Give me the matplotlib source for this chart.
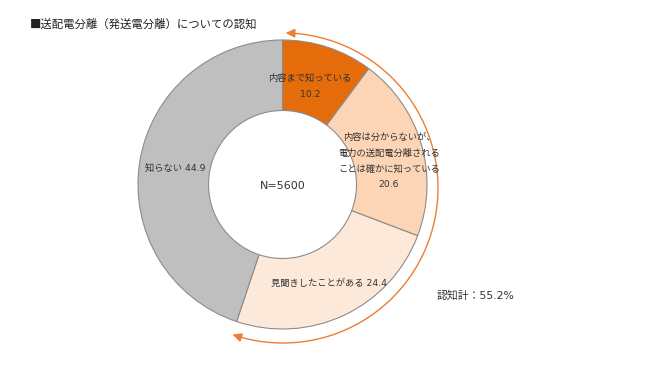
import matplotlib
matplotlib.use("Agg")
import matplotlib.pyplot as plt
from matplotlib.patches import FancyArrowPatch
from matplotlib.path import Path
from matplotlib.transforms import Affine2D

plt.rcParams['font.family'] = ['DejaVu Sans', 'Noto Sans CJK JP']

title = "■送配電分離（発送電分離）についての認知"
categories = ["内容まで知っている", "内容は分からないが、\n電力の送配電分離される\nことは確かに知っている",
              "見聞きしたことがある", "知らない"]
values = [10.2, 20.6, 24.4, 44.9]
colors = ["#E46C0A", "#FBD5B5", "#FDE9D9", "#BFBFBF"]
n_label = "N=5600"
total_label = "認知計：55.2%"

W, H = 645, 368
fig = plt.figure(figsize=(W / 100, H / 100), dpi=100)
ax = fig.add_axes([0, 0, 1, 1])

cx, cy, R = 282.5, H - 184.5, 144.5
inner = 74
ax.pie(values, colors=colors, startangle=90, counterclock=False,
       center=(cx, cy), radius=R,
       wedgeprops=dict(width=R - inner, edgecolor="#8C8C8C", linewidth=0.8))
ax.set_xlim(0, W)
ax.set_ylim(0, H)
ax.set_aspect('equal')
ax.axis('off')

txt = "#333333"
fs = 6.7
ax.text(310, H - 86, categories[0] + "\n" + f"{values[0]}", ha='center', va='center',
        fontsize=fs, color=txt, linespacing=2.05)
ax.text(389, H - 161, categories[1] + "\n" + f"{values[1]}", ha='center', va='center',
        fontsize=fs, color=txt, linespacing=1.95)
ax.text(329, H - 283, categories[2] + f" {values[2]}", ha='center', va='center',
        fontsize=fs, color=txt)
ax.text(175, H - 168, categories[3] + f" {values[3]}", ha='center', va='center',
        fontsize=fs, color=txt)
ax.text(283, H - 186, n_label, ha='center', va='center', fontsize=8, color=txt)
ax.text(476, H - 295, total_label, ha='center', va='center', fontsize=7.8, color=txt)
ax.text(30, H - 24, title, ha='left', va='center', fontsize=8.2, color="#222222",
        family=['Noto Sans CJK JP', 'DejaVu Sans'])

# arc arrow
arc = Path.arc(-109, 89)
arc = Affine2D().scale(155).translate(283, H - 188).transform_path(arc)
arr = FancyArrowPatch(path=arc, arrowstyle='<|-|>,head_length=0.45,head_width=0.22',
                      mutation_scale=12, color="#ED7D31", linewidth=1.0)
ax.add_patch(arr)

fig.savefig("out.png", dpi=100)
